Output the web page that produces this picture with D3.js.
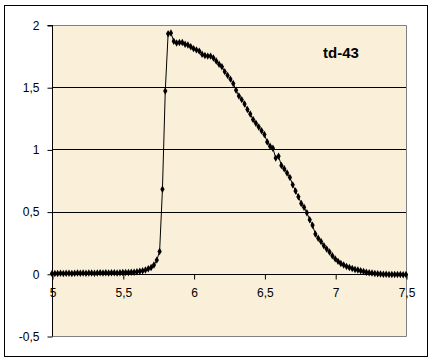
<!DOCTYPE html>
<html><head><meta charset="utf-8">
<script src="https://cdn.jsdelivr.net/npm/d3@7"></script>
<style>
html,body{margin:0;padding:0;background:#fff;}
svg{display:block;font-family:"Liberation Sans",Arial,sans-serif;}
</style></head>
<body><svg id="chart" width="433" height="363"></svg>
<script>
const xStart = 5, xStep = 0.02;
const yValues = [
  0.002,0.003,0.002,0.004,0.003,0.005,0.004,0.003,0.005,0.006,
  0.004,0.006,0.005,0.007,0.006,0.005,0.007,0.008,0.006,0.008,
  0.007,0.009,0.008,0.007,0.009,0.010,
  0.010,0.011,0.012,0.013,0.016,0.020,0.025,0.030,0.040,0.050,
  0.070,0.110,0.180,0.680,1.470,1.930,1.935,1.870,1.855,1.860,
  1.860,1.845,1.840,1.825,1.810,1.800,1.790,1.765,1.755,1.750,
  1.750,1.735,1.710,1.685,1.665,1.625,1.595,1.565,1.530,1.475,
  1.430,1.400,1.365,1.320,1.285,1.240,1.210,1.180,1.150,1.120,
  1.060,1.025,1.010,0.930,0.945,0.870,0.845,0.810,0.775,0.715,
  0.665,0.620,0.565,0.535,0.490,0.435,0.390,0.320,0.285,0.260,
  0.225,0.200,0.175,0.145,0.120,0.100,0.083,0.070,0.058,0.050,
  0.042,0.035,0.030,0.024,0.018,0.012,0.009,0.006,0.003,0.000,
  -0.002,-0.003,-0.004,-0.005,-0.005,-0.006,-0.005,-0.006,-0.007,-0.006
];
const xTicks = [5, 5.5, 6, 6.5, 7, 7.5];
const xTickLabels = ["5", "5,5", "6", "6,5", "7", "7,5"];
const yTicks = [-0.5, 0, 0.5, 1, 1.5, 2];
const yTickLabels = ["-0,5", "0", "0,5", "1", "1,5", "2"];
const gridValues = [0.5, 1, 1.5];
const seriesLabel = "td-43";

const data = yValues.map((v, i) => ({x: xStart + i * xStep, y: v}));

const svg = d3.select("#chart");
const L = 52, R = 406, T = 25, B = 336;

svg.append("rect").attr("x", 4.5).attr("y", 5.5).attr("width", 423).attr("height", 351)
  .attr("fill", "#fff").attr("stroke", "#000").attr("stroke-width", 1);

const x = d3.scaleLinear().domain([5, 7.5]).range([L, R]);
const y = d3.scaleLinear().domain([-0.5, 2]).range([B, T]);

svg.append("rect").attr("x", L).attr("y", T).attr("width", R - L).attr("height", B - T)
  .attr("fill", "#faf0da");
// plot area border (gray)
svg.append("path").attr("d", `M${L},${T + 0.5}H${R + 0.5}V${B + 0.5}H${L}`)
  .attr("fill", "none").attr("stroke", "#808080").attr("stroke-width", 1);

// gridlines
svg.append("g").selectAll("line").data(gridValues).join("line")
  .attr("x1", L).attr("x2", R).attr("y1", d => Math.round(y(d)) + 0.5).attr("y2", d => Math.round(y(d)) + 0.5)
  .attr("stroke", "#000").attr("stroke-width", 1);

// y axis
const yAxis = d3.axisLeft(y).tickValues(yTicks).tickSize(5).tickPadding(8)
  .tickFormat((d, i) => yTickLabels[i]);
const gy = svg.append("g").attr("transform", `translate(${L + 0.5},0.5)`).call(yAxis);
gy.select(".domain").attr("stroke", "#000").attr("d", `M-5,${y(2)}H0V${y(-0.5)}`);
gy.selectAll("text").attr("font-size", 12).attr("fill", "#000")
  .attr("font-family", "Liberation Sans, Arial, sans-serif");

// x axis at y=0
const xAxis = d3.axisBottom(x).tickValues(xTicks).tickSize(5).tickPadding(9)
  .tickFormat((d, i) => xTickLabels[i]);
const gx = svg.append("g").attr("transform", `translate(0.5,${Math.round(y(0)) + 0.5})`).call(xAxis);
gx.select(".domain").attr("stroke", "#000").attr("d", `M${L},0H${R}`);
gx.selectAll("text").attr("font-size", 12).attr("fill", "#000")
  .attr("font-family", "Liberation Sans, Arial, sans-serif");

// series line
const line = d3.line().x(d => x(d.x)).y(d => y(d.y));
svg.append("path").datum(data).attr("d", line)
  .attr("fill", "none").attr("stroke", "#000").attr("stroke-width", 1);

// markers
const sym = d3.symbol().type(d3.symbolDiamond).size(16);
svg.append("g").selectAll("path").data(data).join("path")
  .attr("transform", d => `translate(${x(d.x)},${y(d.y)})`)
  .attr("d", sym).attr("fill", "#000");

// label
svg.append("text").attr("x", 323).attr("y", 58).attr("font-size", 15).attr("font-weight", "bold")
  .attr("font-family", "Liberation Sans, Arial, sans-serif").text(seriesLabel);
</script></body></html>
